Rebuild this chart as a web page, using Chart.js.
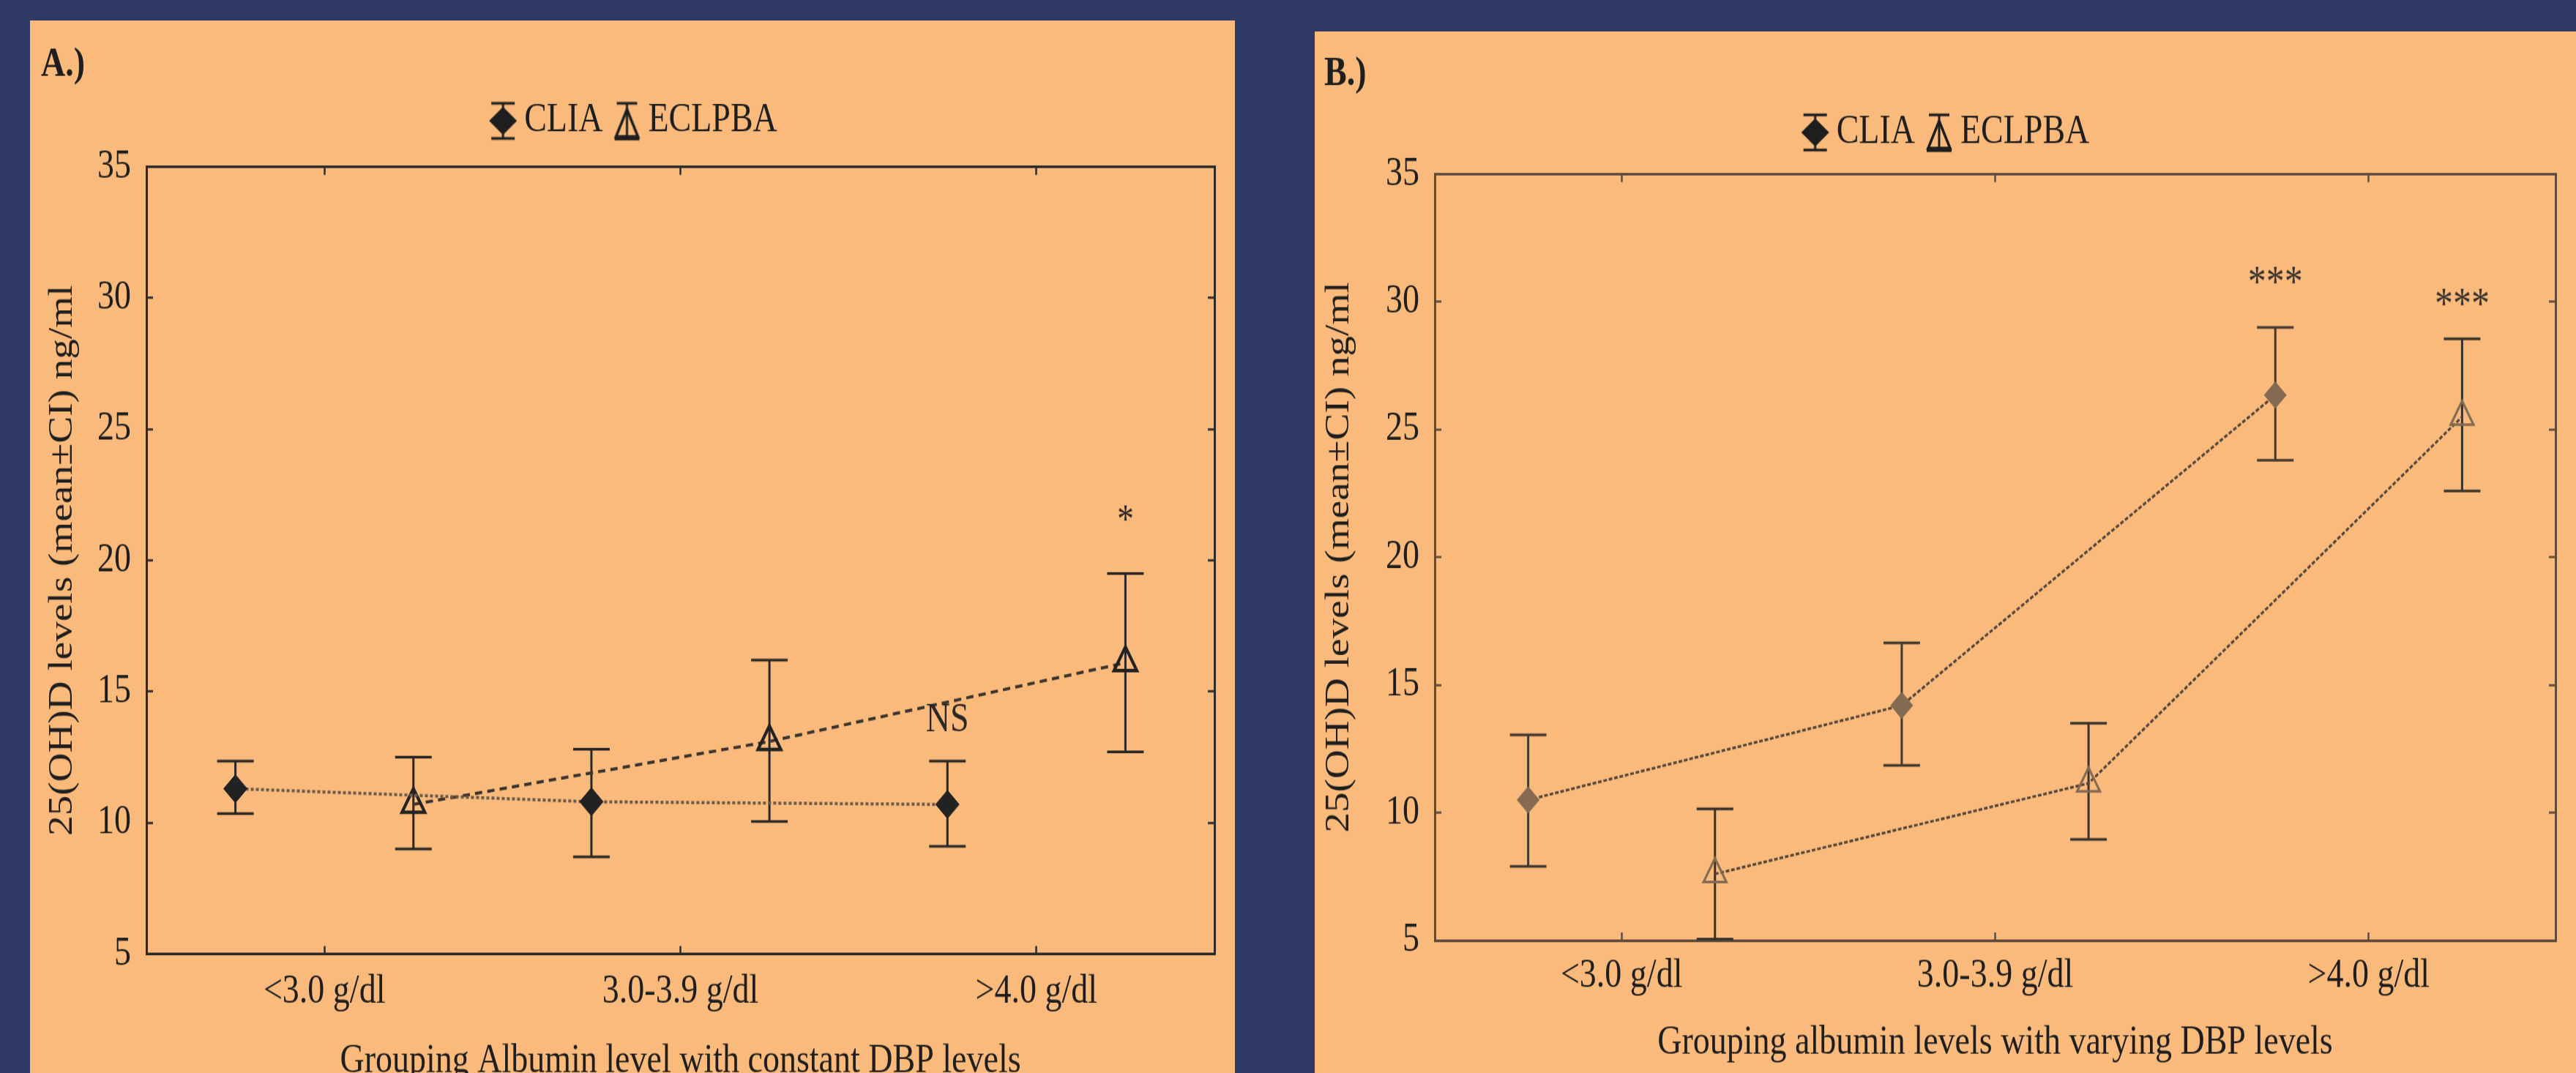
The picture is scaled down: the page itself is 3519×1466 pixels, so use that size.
<!DOCTYPE html>
<html><head><meta charset="utf-8">
<script src="https://cdn.jsdelivr.net/npm/chart.js@4.4.1/dist/chart.umd.min.js"></script>
<style>
html,body{margin:0;padding:0;width:3519px;height:1466px;overflow:hidden;background:#2e3a65;}
canvas{position:absolute;background:#f9ba7b;}
#cA{left:41px;top:28px;}
#cB{left:1796px;top:43px;}
</style></head><body>
<canvas id="cA" width="1646" height="1198" style="width:1646px;height:1438px;"></canvas>
<canvas id="cB" width="1723" height="1186" style="width:1723px;height:1423px;"></canvas>
<script>
// ---------------- data ----------------
const categories = ['<3.0 g/dl', '3.0-3.9 g/dl', '>4.0 g/dl'];
const yTickValues = [5, 10, 15, 20, 25, 30, 35];
const seriesNames = ['CLIA', 'ECLPBA'];
const yTitle = '25(OH)D levels (mean\u00B1CI) ng/ml';

// Panel A: constant DBP
const panelA_label = 'A.)';
const panelA_xTitle = 'Grouping Albumin level with constant DBP levels';
const cliaA_mean = [11.3, 10.8, 10.7];
const cliaA_low  = [10.35, 8.7, 9.1];
const cliaA_high = [12.35, 12.8, 12.35];
const eclA_mean  = [10.7, 13.1, 16.1];
const eclA_low   = [9.0, 10.05, 12.7];
const eclA_high  = [12.5, 16.2, 19.5];
const sigA_text   = ['NS', '*'];
const sigA_series = ['CLIA', 'ECLPBA'];
const sigA_cat    = [2, 2];
const sigA_value  = [14.0, 21.8];

// Panel B: varying DBP
const panelB_label = 'B.)';
const panelB_xTitle = 'Grouping albumin levels with varying DBP levels';
const cliaB_mean = [10.5, 14.2, 26.35];
const cliaB_low  = [7.9, 11.85, 23.8];
const cliaB_high = [13.05, 16.65, 29.0];
const eclB_mean  = [7.6, 11.15, 25.5];
const eclB_low   = [5.05, 8.95, 22.6];
const eclB_high  = [10.15, 13.5, 28.55];
const sigB_text   = ['***', '***'];
const sigB_series = ['CLIA', 'ECLPBA'];
const sigB_cat    = [2, 2];
const sigB_value  = [31.05, 30.2];

// ---------------- drawing ----------------
const FONT = "'Liberation Serif', 'Times New Roman', serif";
const TEXT = '#1e1e1e';
const OFF = 0.25;

function makeIcon(kind, color) {
  const c = document.createElement('canvas');
  c.width = 40; c.height = 46;
  const g = c.getContext('2d');
  g.strokeStyle = color; g.fillStyle = color; g.lineWidth = 3;
  if (kind === 'diamond') {
    g.beginPath();
    g.moveTo(4, 3); g.lineTo(36, 3);
    g.moveTo(4, 43); g.lineTo(36, 43);
    g.moveTo(20, 3); g.lineTo(20, 43);
    g.stroke();
    g.beginPath();
    g.moveTo(1, 23); g.lineTo(20, 7); g.lineTo(39, 23); g.lineTo(20, 39);
    g.closePath(); g.fill();
  } else {
    g.beginPath();
    g.moveTo(6, 3); g.lineTo(34, 3);
    g.moveTo(20, 3); g.lineTo(20, 43);
    g.stroke();
    g.lineWidth = 3.5;
    g.beginPath();
    g.moveTo(20, 10); g.lineTo(35, 41); g.lineTo(5, 41);
    g.closePath(); g.stroke();
    g.lineWidth = 4.5;
    g.beginPath(); g.moveTo(3, 43); g.lineTo(37, 43); g.stroke();
  }
  return c;
}

const sigPlugin = {
  id: 'sigText',
  afterDatasetsDraw(chart, args, opts) {
    const ctx = chart.ctx, xs = chart.scales.x, ys = chart.scales.y;
    ctx.save();
    ctx.font = opts.size + 'px ' + FONT;
    ctx.fillStyle = opts.color;
    ctx.textAlign = 'center';
    ctx.textBaseline = 'alphabetic';
    opts.text.forEach((t, i) => {
      const m = ctx.measureText(t);
      const px = xs.getPixelForValue(opts.cat[i] + (opts.series[i] === 'CLIA' ? -OFF : OFF));
      const py = ys.getPixelForValue(opts.value[i]) + (m.actualBoundingBoxAscent - m.actualBoundingBoxDescent) / 2;
      ctx.fillText(t, px, py);
    });
    ctx.restore();
  }
};

function pts(mean, d) { return mean.map((v, i) => ({x: i + d, y: v})); }
function bars(low, high, d) {
  const out = [];
  low.forEach((lo, i) => { out.push({x: i + d, y: lo}, {x: i + d, y: high[i]}, {x: i + d, y: null}); });
  return out;
}

function buildPanel(id, d, P, st) {
  const tickFont = {family: FONT, size: 46};
  const gridOpts = {drawOnChartArea: false, drawTicks: true, tickLength: -9, tickColor: st.frame, tickWidth: 2.5};
  const borderOpts = {display: true, color: st.frame, width: 3};
  const catTicks = s => { s.ticks = categories.map((c, i) => ({value: i})); };
  const yTicks = s => { s.ticks = yTickValues.map(v => ({value: v})); };
  return new Chart(document.getElementById(id), {
    type: 'line',
    data: {
      datasets: [
        {label: seriesNames[0], data: pts(d.cm, -OFF), borderColor: st.cliaLine, borderWidth: st.lineW,
         borderDash: st.cliaDash, pointStyle: 'rectRot', pointRadius: st.diaR,
         pointBackgroundColor: st.cliaMark, pointBorderColor: st.cliaMark, pointBorderWidth: 1,
         order: 0, clip: false, tension: 0},
        {label: seriesNames[1], data: pts(d.em, OFF), borderColor: st.eclLine, borderWidth: st.lineW,
         borderDash: st.eclDash, pointStyle: 'triangle', pointRadius: st.triR,
         pointBackgroundColor: 'rgba(0,0,0,0)', pointBorderColor: st.eclMark, pointBorderWidth: st.triW,
         order: 1, clip: false, tension: 0},
        {label: seriesNames[0] + ' CI', data: bars(d.cl, d.ch, -OFF), borderColor: st.cliaBar, borderWidth: 3,
         pointStyle: 'line', pointRadius: 25, pointBorderColor: st.cliaBar, pointBackgroundColor: st.cliaBar,
         pointBorderWidth: 3, spanGaps: false, order: 2, clip: false},
        {label: seriesNames[1] + ' CI', data: bars(d.el, d.eh, OFF), borderColor: st.eclBar, borderWidth: 3,
         pointStyle: 'line', pointRadius: 25, pointBorderColor: st.eclBar, pointBackgroundColor: st.eclBar,
         pointBorderWidth: 3, spanGaps: false, order: 3, clip: false}
      ]
    },
    options: {
      responsive: false, animation: false, devicePixelRatio: 1, events: [],
      layout: {padding: {left: P.left, right: 0, top: 0, bottom: 0}},
      plugins: {
        tooltip: {enabled: false},
        title: {display: true, text: d.label, align: 'start', color: TEXT,
                font: {family: FONT, size: 46, weight: 'bold'}, padding: P.titlePad},
        legend: {display: true, position: 'top', align: 'center',
          labels: {usePointStyle: true, boxWidth: 12, padding: 27, color: TEXT, font: {family: FONT, size: 46},
            generateLabels: () => [
              {text: seriesNames[0], pointStyle: makeIcon('diamond', '#1e1e1e'), fillStyle: 'rgba(0,0,0,0)',
               strokeStyle: 'rgba(0,0,0,0)', lineWidth: 0, hidden: false, datasetIndex: 0, fontColor: TEXT},
              {text: seriesNames[1], pointStyle: makeIcon('triangle', '#1e1e1e'), fillStyle: 'rgba(0,0,0,0)',
               strokeStyle: 'rgba(0,0,0,0)', lineWidth: 0, hidden: false, datasetIndex: 1, fontColor: TEXT}
            ]}},
        sigText: {text: d.sigText, series: d.sigSeries, cat: d.sigCat, value: d.sigValue, size: st.sigSize, color: st.sigColor}
      },
      scales: {
        x: {type: 'linear', position: 'bottom', min: -0.5, max: 2.5, afterBuildTicks: catTicks,
            ticks: {callback: v => categories[v], font: tickFont, color: TEXT, padding: P.xTickPad, maxRotation: 0, autoSkip: false},
            grid: gridOpts, border: borderOpts,
            title: {display: true, text: d.xTitle, color: TEXT, font: tickFont, padding: {top: 0, bottom: P.xTitlePadB}},
            afterFit: s => { s.height = P.xH; }},
        x2: {type: 'linear', position: 'top', min: -0.5, max: 2.5, afterBuildTicks: catTicks,
             ticks: {display: false}, grid: gridOpts, border: borderOpts,
             afterFit: s => { s.height = P.x2H; }},
        y: {type: 'linear', position: 'left', min: 5, max: 35, afterBuildTicks: yTicks,
            ticks: {font: tickFont, color: TEXT, padding: 30},
            grid: gridOpts, border: borderOpts,
            title: {display: true, text: yTitle, color: TEXT, font: tickFont, padding: {top: P.yTitlePadT, bottom: 4}},
            afterFit: s => { s.width = P.yW; }},
        y2: {type: 'linear', position: 'right', min: 5, max: 35, afterBuildTicks: yTicks,
             ticks: {display: false}, grid: gridOpts, border: borderOpts,
             afterFit: s => { s.width = P.y2W; }}
      }
    },
    plugins: [sigPlugin]
  });
}

buildPanel('cA',
  {label: panelA_label, xTitle: panelA_xTitle, cm: cliaA_mean, cl: cliaA_low, ch: cliaA_high,
   em: eclA_mean, el: eclA_low, eh: eclA_high,
   sigText: sigA_text, sigSeries: sigA_series, sigCat: sigA_cat, sigValue: sigA_value},
  {left: 15, yW: 144, yTitlePadT: 2.4, y2W: 20, titlePad: {top: 23.2, bottom: -14.2},
   x2H: 19.5, xH: 135.5, xTickPad: 24.9, xTitlePadB: -15},
  {frame: '#2e2a27', cliaLine: '#6a5a4b', eclLine: '#3a332e', lineW: 3.5, cliaDash: [4, 3], eclDash: [10, 7],
   cliaMark: '#222222', eclMark: '#222222', diaR: 16, triR: 18, triW: 4,
   cliaBar: '#2a2725', eclBar: '#2a2725', sigSize: 46, sigColor: '#2a2725'});

buildPanel('cB',
  {label: panelB_label, xTitle: panelB_xTitle, cm: cliaB_mean, cl: cliaB_low, ch: cliaB_high,
   em: eclB_mean, el: eclB_low, eh: eclB_high,
   sigText: sigB_text, sigSeries: sigB_series, sigCat: sigB_cat, sigValue: sigB_value},
  {left: 13, yW: 151, yTitlePadT: -6.6, y2W: 16, titlePad: {top: 21.6, bottom: -11.8},
   x2H: 14.5, xH: 151, xTickPad: 22.2, xTitlePadB: 6.4},
  {frame: '#5e4b3c', cliaLine: '#55473b', eclLine: '#55473b', lineW: 3, cliaDash: [5, 2.5], eclDash: [5, 2.5],
   cliaMark: '#846a52', eclMark: '#846a52', diaR: 15, triR: 18, triW: 3,
   cliaBar: '#44392f', eclBar: '#38322d', sigSize: 50, sigColor: '#3a332e'});
</script>
</body></html>
